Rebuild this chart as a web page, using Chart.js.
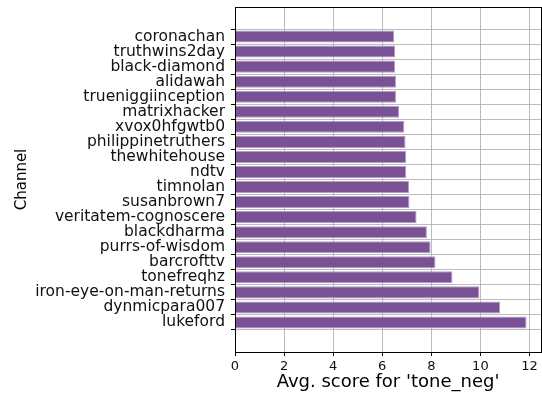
<!DOCTYPE html>
<html>
<head>
<meta charset="utf-8">
<script src="https://cdn.jsdelivr.net/npm/chart.js@4/dist/chart.umd.min.js"></script>
<style>
  html, body { margin: 0; padding: 0; background: #fff; }
  #wrap { width: 542px; height: 400px; position: relative; }
</style>
</head>
<body>
<div id="wrap"><canvas id="chart"></canvas></div>
<script>
// channels listed top to bottom as in the picture
const channels = [
    'coronachan', 'truthwins2day', 'black-diamond', 'alidawah', 'trueniggiinception',
    'matrixhacker', 'xvox0hfgwtb0', 'philippinetruthers', 'thewhitehouse', 'ndtv',
    'timnolan', 'susanbrown7', 'veritatem-cognoscere', 'blackdharma', 'purrs-of-wisdom',
    'barcrofttv', 'tonefreqhz', 'iron-eye-on-man-returns', 'dynmicpara007', 'lukeford'
];
const toneNeg = [
    6.49, 6.52, 6.52, 6.56, 6.56,
    6.69, 6.90, 6.95, 6.98, 6.98,
    7.09, 7.11, 7.40, 7.82, 7.97,
    8.17, 8.86, 9.96, 10.80, 11.88
];
const xTicks = [0, 2, 4, 6, 8, 10, 12];

const n = channels.length;
// bottom bar sits at position 0, like matplotlib's barh
const points = toneNeg.map((v, i) => ({ x: v, y: n - 1 - i }));
const nameAt = pos => channels[n - 1 - pos];

const FONT = "'DejaVu Sans', sans-serif";
const gridColor = 'rgba(176,176,176,0.85)';

// full box around the plot area (matplotlib spines)
const frame = {
    id: 'frame',
    afterDraw(chart) {
        const { ctx, chartArea: a } = chart;
        ctx.save();
        ctx.strokeStyle = '#000';
        ctx.lineWidth = 1;
        ctx.strokeRect(Math.round(a.left) + 0.5, Math.round(a.top) + 0.5,
            Math.round(a.right - a.left), Math.round(a.bottom - a.top));
        ctx.restore();
    }
};

new Chart(document.getElementById('chart'), {
    type: 'bar',
    data: {
        datasets: [{
            data: points,
            backgroundColor: '#7a5195',
            borderColor: '#b49cc9',
            borderWidth: 1,
            barPercentage: 0.8,
            categoryPercentage: 1
        }]
    },
    options: {
        indexAxis: 'y',
        responsive: true,
        maintainAspectRatio: false,
        animation: false,
        layout: { padding: { top: 7, right: 1, left: 0, bottom: 0 } },
        plugins: { legend: { display: false }, tooltip: { enabled: false } },
        scales: {
            x: {
                type: 'linear',
                min: 0,
                max: 12.47,
                z: 1,
                grid: { color: gridColor, tickColor: '#000', tickLength: 4 },
                border: { color: '#000' },
                afterBuildTicks: s => { s.ticks = xTicks.map(v => ({ value: v })); },
                afterFit: s => { s.height = 48; s.paddingLeft = 0; s.paddingRight = 0; },
                ticks: {
                    padding: 3,
                    color: '#111',
                    font: { family: FONT, size: 13 },
                    maxRotation: 0
                },
                title: {
                    display: true,
                    text: "Avg. score for 'tone_neg'",
                    color: '#000',
                    font: { family: FONT, size: 18 },
                    padding: { top: 0, bottom: 7 }
                }
            },
            y: {
                type: 'linear',
                min: -1.39,
                max: n - 1 + 1.39,
                z: 1,
                grid: { color: gridColor, tickColor: '#000', tickLength: 4 },
                border: { color: '#000' },
                afterBuildTicks: s => { s.ticks = channels.map((_, i) => ({ value: i })); },
                afterFit: s => { s.width = 235; s.paddingTop = 0; s.paddingBottom = 0; },
                ticks: {
                    padding: 6,
                    autoSkip: false,
                    color: '#111',
                    font: { family: FONT, size: 15.5 },
                    callback: v => nameAt(v)
                },
                title: {
                    display: true,
                    text: 'Channel',
                    color: '#000',
                    font: { family: FONT, size: 15 },
                    padding: { top: 13, bottom: 0 }
                }
            }
        }
    },
    plugins: [frame]
});
</script>
</body>
</html>
